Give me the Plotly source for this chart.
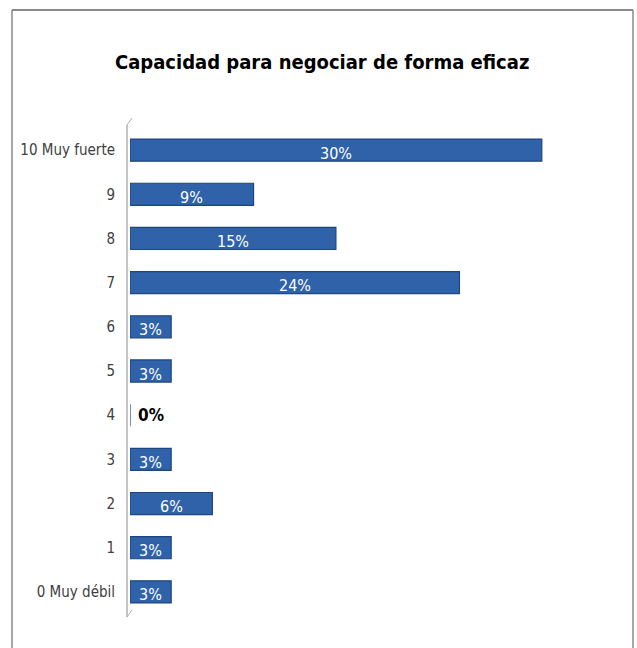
import plotly.graph_objects as go

categories = ["0 Muy débil", "1", "2", "3", "4", "5", "6", "7", "8", "9", "10 Muy fuerte"]
values = [3, 3, 6, 3, 0, 3, 3, 24, 15, 9, 30]
labels = ["3%", "3%", "6%", "3%", "0%", "3%", "3%", "24%", "15%", "9%", "30%"]

W, H = 637, 648
L, R, T, B = 130, 54, 128, 34
pw, ph = W - L - R, H - T - B

def px(x):
    return (x - L) / pw

def py(y):
    return (H - B - y) / ph

NARROW = "DejaVu Sans Condensed, Liberation Sans Narrow, Arial Narrow, sans-serif"

fig = go.Figure()
fig.add_trace(go.Bar(
    y=categories, x=values, orientation="h",
    marker=dict(color="#2F62A8", line=dict(color="#1E467E", width=1.2)),
    width=0.5, hoverinfo="x+y",
))

annotations = []
for c, v, t in zip(categories, values, labels):
    if v > 0:
        annotations.append(dict(x=v / 2, y=c, text=t, showarrow=False, xref="x", yref="y",
                                yshift=-3, font=dict(family=NARROW, size=16, color="white")))
    else:
        annotations.append(dict(x=v, y=c, text="<b>" + t + "</b>", showarrow=False, xref="x", yref="y",
                                xanchor="left", xshift=6, font=dict(family=NARROW, size=17, color="black")))

annotations.append(dict(text="<b>Capacidad para negociar de forma eficaz</b>", xref="paper", yref="paper",
                        x=px(322), y=py(62), xanchor="center", yanchor="middle", showarrow=False,
                        font=dict(family=NARROW, size=20, color="black")))

shapes = [
    dict(type="line", xref="paper", yref="paper", x0=px(12), x1=px(633), y0=py(10), y1=py(10),
         line=dict(color="#8a8a8a", width=2)),
    dict(type="line", xref="paper", yref="paper", x0=px(12), x1=px(12), y0=py(10), y1=py(650),
         line=dict(color="#8a8a8a", width=1.5)),
    dict(type="line", xref="paper", yref="paper", x0=px(633), x1=px(633), y0=py(10), y1=py(650),
         line=dict(color="#8a8a8a", width=1.5)),
    dict(type="line", xref="paper", yref="paper", x0=px(127), x1=px(127), y0=py(125), y1=py(617),
         line=dict(color="#b0b0b0", width=1.5)),
    dict(type="line", xref="paper", yref="paper", x0=px(127), x1=px(132), y0=py(125), y1=py(118),
         line=dict(color="#b0b0b0", width=1)),
    dict(type="line", xref="paper", yref="paper", x0=px(127), x1=px(132), y0=py(617), y1=py(610),
         line=dict(color="#b0b0b0", width=1)),
]

fig.update_layout(
    width=W, height=H,
    margin=dict(l=L, r=R, t=T, b=B),
    paper_bgcolor="white", plot_bgcolor="white",
    showlegend=False,
    xaxis=dict(range=[0, 33], visible=False, automargin=False),
    yaxis=dict(categoryorder="array", categoryarray=categories, showline=False, showgrid=False,
               ticks="", ticklabelstandoff=14, automargin=False,
               tickfont=dict(family=NARROW, size=15, color="#404040")),
    annotations=annotations,
    shapes=shapes,
)

fig.write_html("out.html", config={"displayModeBar": False},
               post_script="document.body.style.margin='0px';")
